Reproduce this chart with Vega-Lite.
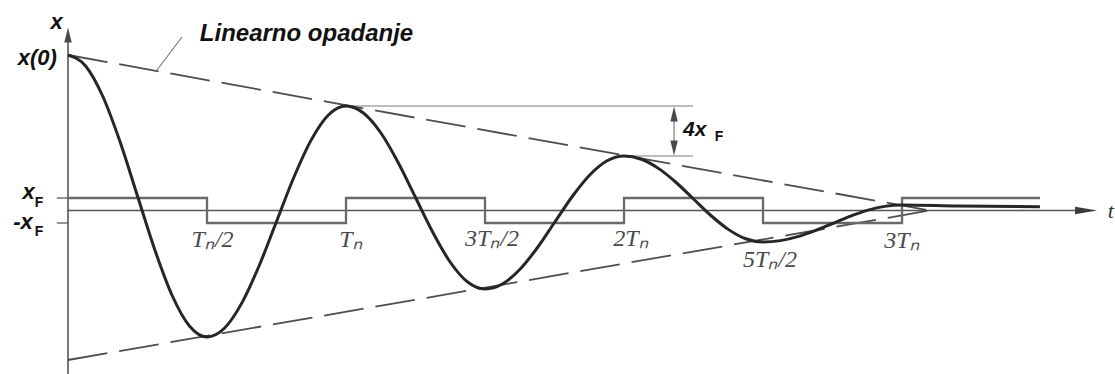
{
  "$schema": "https://vega.github.io/schema/vega-lite/v6.json",
  "width": 1115,
  "height": 374,
  "padding": 0,
  "autosize": {"type": "none"},
  "background": "white",
  "view": {"stroke": null},
  "config": {"text": {"font": "Liberation Sans"}},
  "datasets": {
    "curve": [
      {"t": 0, "x": 12.44}, {"t": 0.0625, "x": 11.58}, {"t": 0.125, "x": 9.14}, {"t": 0.1875, "x": 5.48},
      {"t": 0.25, "x": 1.16}, {"t": 0.3125, "x": -3.16}, {"t": 0.375, "x": -6.82}, {"t": 0.4375, "x": -9.26},
      {"t": 0.5, "x": -10.12}, {"t": 0.5625, "x": -9.42}, {"t": 0.625, "x": -7.41}, {"t": 0.6875, "x": -4.42},
      {"t": 0.75, "x": -0.88}, {"t": 0.8125, "x": 2.66}, {"t": 0.875, "x": 5.65}, {"t": 0.9375, "x": 7.66},
      {"t": 1.0, "x": 8.36}, {"t": 1.0625, "x": 7.8}, {"t": 1.125, "x": 6.22}, {"t": 1.1875, "x": 3.84},
      {"t": 1.25, "x": 1.04}, {"t": 1.3125, "x": -1.76}, {"t": 1.375, "x": -4.14}, {"t": 1.4375, "x": -5.72},
      {"t": 1.5, "x": -6.28}, {"t": 1.5625, "x": -5.88}, {"t": 1.625, "x": -4.72}, {"t": 1.6875, "x": -3.0},
      {"t": 1.75, "x": -0.96}, {"t": 1.8125, "x": 1.08}, {"t": 1.875, "x": 2.8}, {"t": 1.9375, "x": 3.96},
      {"t": 2.0, "x": 4.36}, {"t": 2.0625, "x": 4.1}, {"t": 2.125, "x": 3.35}, {"t": 2.1875, "x": 2.24},
      {"t": 2.25, "x": 0.92}, {"t": 2.3125, "x": -0.4}, {"t": 2.375, "x": -1.51}, {"t": 2.4375, "x": -2.26},
      {"t": 2.5, "x": -2.52}, {"t": 2.5625, "x": -2.41}, {"t": 2.625, "x": -2.09}, {"t": 2.6875, "x": -1.61},
      {"t": 2.75, "x": -1.04}, {"t": 2.8125, "x": -0.47}, {"t": 2.875, "x": 0.01}, {"t": 2.9375, "x": 0.33},
      {"t": 3.0, "x": 0.44}, {"t": 3.2, "x": 0.36}, {"t": 3.496, "x": 0.3}
    ],
    "friction": [
      {"t": 0, "x": 1}, {"t": 0.5, "x": -1}, {"t": 1.0, "x": 1}, {"t": 1.5, "x": -1},
      {"t": 2.0, "x": 1}, {"t": 2.5, "x": -1}, {"t": 3.0, "x": 1}, {"t": 3.496, "x": 1}
    ],
    "envelope": [
      {"line": "upper", "t": 0, "x": 12.44}, {"line": "upper", "t": 3.1, "x": 0},
      {"line": "lower", "t": 0, "x": -11.96}, {"line": "lower", "t": 3.1, "x": 0}
    ],
    "axes": [
      {"t": 0, "x": -13.08, "t2": 0, "x2": 14.0},
      {"t": 0, "x": 0, "t2": 3.63, "x2": 0}
    ],
    "ticks": [
      {"t": -0.04, "x": 1, "t2": 0, "x2": 1},
      {"t": -0.04, "x": -1, "t2": 0, "x2": -1}
    ],
    "dims": [
      {"t": 1.0, "x": 8.36, "t2": 2.248, "x2": 8.36},
      {"t": 2.0, "x": 4.36, "t2": 2.248, "x2": 4.36},
      {"t": 2.18, "x": 7.6, "t2": 2.18, "x2": 5.1},
      {"t": 0.41, "x": 13.88, "t2": 0.32, "x2": 11.24}
    ],
    "arrowUp": [{"t": 0, "x": 14.04}, {"t": 2.18, "x": 7.72}],
    "arrowDown": [{"t": 2.18, "x": 5.0}],
    "arrowRight": [{"t": 3.662, "x": 0}],
    "labelsT": [
      {"t": 0.52, "x": -2.92, "label": "Tₙ/2"},
      {"t": 1.018, "x": -2.92, "label": "Tₙ"},
      {"t": 1.525, "x": -2.8, "label": "3Tₙ/2"},
      {"t": 2.025, "x": -2.8, "label": "2Tₙ"},
      {"t": 2.525, "x": -4.52, "label": "5Tₙ/2"},
      {"t": 3.0, "x": -3.0, "label": "3Tₙ"}
    ],
    "labelsSym": [
      {"t": -0.041, "x": 15.12, "label": "x"},
      {"t": -0.142, "x": 1.48, "label": "x"},
      {"t": -0.162, "x": -0.92, "label": "-x"}
    ],
    "labelsSub": [
      {"t": -0.104, "x": 0.6, "label": "F"},
      {"t": -0.104, "x": -1.72, "label": "F"},
      {"t": 2.342, "x": 5.88, "label": "F"}
    ]
  },
  "encoding": {
    "x": {"field": "t", "type": "quantitative", "axis": null, "scale": {"domain": [-0.2446, 3.766], "nice": false, "zero": false}},
    "y": {"field": "x", "type": "quantitative", "axis": null, "scale": {"domain": [-13.08, 16.84], "nice": false, "zero": false}}
  },
  "layer": [
    {
      "data": {"name": "axes"},
      "mark": {"type": "rule", "color": "#555555", "strokeWidth": 1.6},
      "encoding": {"x2": {"field": "t2"}, "y2": {"field": "x2"}}
    },
    {
      "data": {"name": "ticks"},
      "mark": {"type": "rule", "color": "#666666", "strokeWidth": 1.4},
      "encoding": {"x2": {"field": "t2"}, "y2": {"field": "x2"}}
    },
    {
      "data": {"name": "envelope"},
      "mark": {"type": "line", "color": "#4d4d4d", "strokeWidth": 1.8, "strokeDash": [40, 12]},
      "encoding": {"detail": {"field": "line"}}
    },
    {
      "data": {"name": "friction"},
      "mark": {"type": "line", "color": "#6a6a6a", "strokeWidth": 2.3, "interpolate": "step-after"},
      "encoding": {}
    },
    {
      "data": {"name": "dims"},
      "mark": {"type": "rule", "color": "#7a7a7a", "strokeWidth": 1.2},
      "encoding": {"x2": {"field": "t2"}, "y2": {"field": "x2"}}
    },
    {
      "data": {"name": "curve"},
      "mark": {"type": "line", "color": "#262626", "strokeWidth": 3, "interpolate": "monotone"},
      "encoding": {}
    },
    {
      "data": {"name": "arrowUp"},
      "mark": {"type": "point", "shape": "M0,-1L0.5,1L-0.5,1Z", "filled": true, "size": 225, "color": "#4a4a4a", "opacity": 1}
    },
    {
      "data": {"name": "arrowDown"},
      "mark": {"type": "point", "shape": "M0,1L0.5,-1L-0.5,-1Z", "filled": true, "size": 225, "color": "#4a4a4a", "opacity": 1}
    },
    {
      "data": {"name": "arrowRight"},
      "mark": {"type": "point", "shape": "M1,0L-1,-0.35L-1,0.35Z", "filled": true, "size": 484, "color": "#3a3a3a", "opacity": 1}
    },
    {
      "data": {"values": [{"t": 0.858, "x": 13.56, "label": "Linearno opadanje"}]},
      "mark": {"type": "text", "font": "Liberation Sans", "fontSize": 24, "fontWeight": "bold", "fontStyle": "italic", "align": "center", "baseline": "alphabetic", "color": "#111"},
      "encoding": {"text": {"field": "label"}}
    },
    {
      "data": {"values": [{"t": -0.04, "x": 12.24, "label": "x(0)"}]},
      "mark": {"type": "text", "font": "Liberation Sans", "fontSize": 22, "fontWeight": "bold", "fontStyle": "italic", "align": "right", "baseline": "middle", "color": "#111"},
      "encoding": {"text": {"field": "label"}}
    },
    {
      "data": {"values": [{"t": 2.212, "x": 6.44, "label": "4x"}]},
      "mark": {"type": "text", "font": "Liberation Sans", "fontSize": 21, "fontWeight": "bold", "fontStyle": "italic", "align": "left", "baseline": "middle", "color": "#111"},
      "encoding": {"text": {"field": "label"}}
    },
    {
      "data": {"name": "labelsSym"},
      "mark": {"type": "text", "font": "Liberation Sans", "fontSize": 22, "fontWeight": "bold", "fontStyle": "italic", "align": "center", "baseline": "middle", "color": "#111"},
      "encoding": {"text": {"field": "label"}}
    },
    {
      "data": {"name": "labelsSub"},
      "mark": {"type": "text", "font": "Liberation Sans", "fontSize": 14, "fontWeight": "bold", "align": "center", "baseline": "middle", "color": "#111"},
      "encoding": {"text": {"field": "label"}}
    },
    {
      "data": {"name": "labelsT"},
      "mark": {"type": "text", "font": "Liberation Serif", "fontSize": 24, "fontStyle": "italic", "align": "center", "baseline": "alphabetic", "color": "#4a4a4a"},
      "encoding": {"text": {"field": "label"}}
    },
    {
      "data": {"values": [{"t": 3.762, "x": 0, "label": "t"}]},
      "mark": {"type": "text", "font": "Liberation Serif", "fontSize": 22, "fontStyle": "italic", "align": "right", "baseline": "middle", "color": "#333"},
      "encoding": {"text": {"field": "label"}}
    }
  ]
}
